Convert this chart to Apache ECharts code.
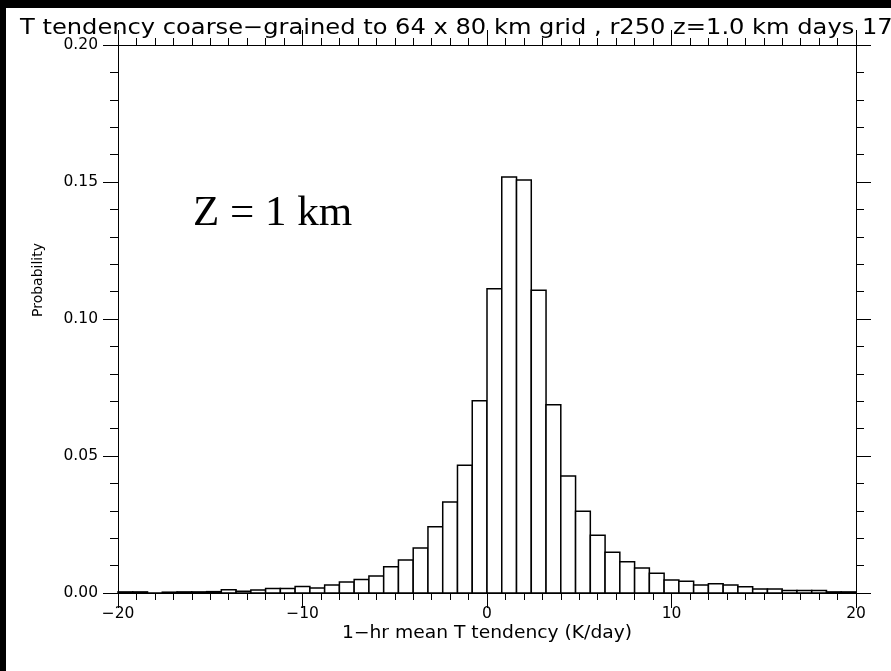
<!DOCTYPE html>
<html>
<head>
<meta charset="utf-8">
<script src="https://cdn.jsdelivr.net/npm/echarts@6/dist/echarts.min.js"></script>
<style>
  html, body { margin: 0; padding: 0; background: #fff; }
  #chart { width: 891px; height: 671px; }
</style>
</head>
<body>
<div id="chart"></div>
<script>
// Histogram of 1-hr mean temperature tendency, bins 0.8 K/day wide from -20 to 20
const binStart = -20;
const binWidth = 0.8;
const probability = [
  0.0004, 0.0004, 0.0000, 0.0003, 0.0004, 0.0004, 0.0005, 0.0012, 0.0006, 0.0011,
  0.0016, 0.0016, 0.0024, 0.0018, 0.0029, 0.0040, 0.0049, 0.0062, 0.0096, 0.0120,
  0.0164, 0.0242, 0.0332, 0.0466, 0.0702, 0.1110, 0.1518, 0.1507, 0.1105, 0.0687,
  0.0427, 0.0298, 0.0211, 0.0149, 0.0114, 0.0091, 0.0072, 0.0047, 0.0043, 0.0029,
  0.0034, 0.0029, 0.0023, 0.0015, 0.0015, 0.0009, 0.0009, 0.0009, 0.0004, 0.0004
];
const xTicks = [-20, -10, 0, 10, 20];
const yTicks = [0.00, 0.05, 0.10, 0.15, 0.20];

const titleText = 'T tendency coarse\u2212grained to 64 x 80 km grid , r250 z=1.0 km days 17';
const xName = '1\u2212hr mean T tendency (K/day)';
const yName = 'Probability';
const panelLabel = 'Z = 1 km';

const bins = probability.map((p, i) => {
  const lo = +(binStart + i * binWidth).toFixed(2);
  return [lo, +(lo + binWidth).toFixed(2), p];
});

const labelFont = { color: '#000', fontFamily: 'DejaVu Sans', fontSize: 15.5 };

function makeX(pos, showLabel) {
  return {
    type: 'value', position: pos, min: xTicks[0], max: xTicks[xTicks.length - 1],
    interval: 10,
    axisLine: { show: true, onZero: false, lineStyle: { color: '#000', width: 1 } },
    axisTick: { show: true, inside: false, length: 15, lineStyle: { color: '#000' } },
    minorTick: { show: true, splitNumber: 10, length: 7, lineStyle: { color: '#000' } },
    splitLine: { show: false },
    axisLabel: Object.assign({ show: showLabel, margin: 13,
      formatter: v => (v < 0 ? '\u2212' + Math.abs(v) : String(v)) }, labelFont)
  };
}
function makeY(pos, showLabel) {
  return {
    type: 'value', position: pos, min: yTicks[0], max: yTicks[yTicks.length - 1], interval: 0.05,
    axisLine: { show: true, onZero: false, lineStyle: { color: '#000', width: 1 } },
    axisTick: { show: true, inside: false, length: 15, lineStyle: { color: '#000' } },
    minorTick: { show: true, splitNumber: 5, length: 8, lineStyle: { color: '#000' } },
    splitLine: { show: false },
    axisLabel: Object.assign({ show: showLabel, margin: 20,
      formatter: v => v.toFixed(2) }, labelFont)
  };
}

const chart = echarts.init(document.getElementById('chart'), null, { renderer: 'canvas' });
chart.setOption({
  animation: false,
  backgroundColor: '#fff',
  grid: { left: 118, right: 35, top: 45, bottom: 78 },
  xAxis: [makeX('bottom', true), makeX('top', false)],
  yAxis: [makeY('left', true), makeY('right', false)],
  series: [{
    type: 'custom',
    xAxisIndex: 0, yAxisIndex: 0,
    data: bins,
    renderItem: function (params, api) {
      const p0 = api.coord([api.value(0), 0]);
      const p1 = api.coord([api.value(1), api.value(2)]);
      return {
        type: 'rect',
        shape: { x: p0[0], y: p1[1], width: p1[0] - p0[0], height: p0[1] - p1[1] },
        style: { fill: '#fff', stroke: '#000', lineWidth: 1.5 }
      };
    }
  }],
  graphic: [
    { type: 'rect', left: 0, top: 0, shape: { width: 891, height: 8 }, style: { fill: '#000' }, z: 10 },
    { type: 'rect', left: 0, top: 0, shape: { width: 6, height: 671 }, style: { fill: '#000' }, z: 10 },
    { type: 'text', x: 20, y: 29, scaleX: 1.15,
      style: { text: titleText, fill: '#000', font: '21px "DejaVu Sans"', verticalAlign: 'middle' }, z: 5 },
    { type: 'text', x: 38, y: 280, rotation: Math.PI / 2,
      style: { text: yName, fill: '#000', font: '14px "DejaVu Sans"', align: 'center', verticalAlign: 'middle' } },
    { type: 'text', x: 487, y: 634, scaleX: 1.1,
      style: { text: xName, fill: '#000', font: '17px "DejaVu Sans"', align: 'center', verticalAlign: 'middle' } },
    { type: 'text', x: 193, y: 214,
      style: { text: panelLabel, fill: '#000', font: '43px "Liberation Serif"', verticalAlign: 'middle' } }
  ]
});
</script>
</body>
</html>
